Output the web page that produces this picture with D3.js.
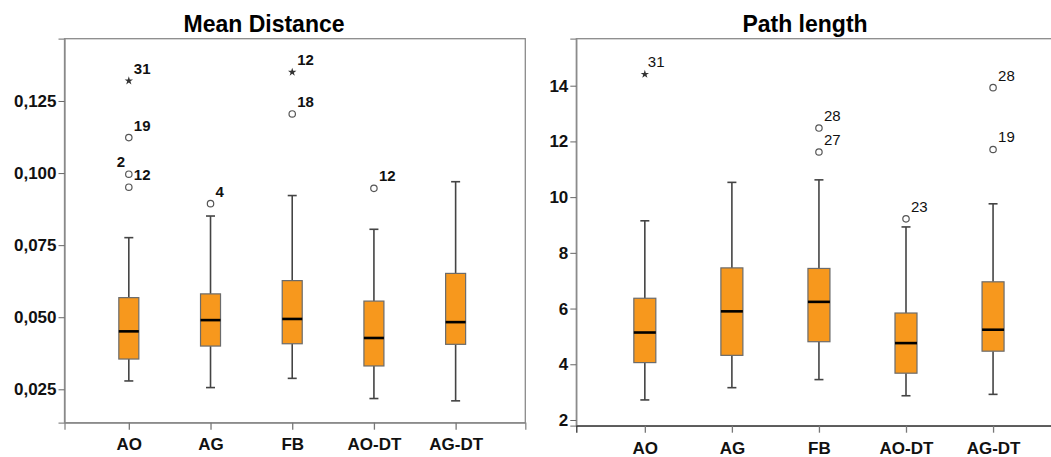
<!DOCTYPE html>
<html><head><meta charset="utf-8">
<script src="https://cdn.jsdelivr.net/npm/d3@7/dist/d3.min.js"></script>
<style>
html,body{margin:0;padding:0;background:#fff;}
svg{display:block;font-family:"Liberation Sans",Arial,sans-serif;}
</style></head>
<body><svg id="chart" width="1051" height="457"></svg>
<script>
// ---------- data ----------
const categories = ["AO", "AG", "FB", "AO-DT", "AG-DT"];

// Mean Distance
const mdTitle = "Mean Distance";
const mdLow  = [0.0279, 0.0256, 0.0288, 0.0218, 0.0210];
const mdQ1   = [0.0355, 0.0400, 0.0408, 0.0331, 0.0406];
const mdMed  = [0.0451, 0.0490, 0.0494, 0.0428, 0.0483];
const mdQ3   = [0.0568, 0.0581, 0.0627, 0.0556, 0.0652];
const mdHigh = [0.0776, 0.0851, 0.0922, 0.0805, 0.0970];
const mdOutliers = [
  ["AO", 0.1320, "31", "extreme"],
  ["AO", 0.1123, "19", "out"],
  ["AO", 0.0996, "2", "out"],
  ["AO", 0.0951, "12", "out"],
  ["AG", 0.0894, "4", "out"],
  ["FB", 0.1350, "12", "extreme"],
  ["FB", 0.1205, "18", "out"],
  ["AO-DT", 0.0947, "12", "out"]
];
const mdTicks = [0.025, 0.050, 0.075, 0.100, 0.125];

// Path length
const plTitle = "Path length";
const plLow  = [2.72, 3.16, 3.45, 2.87, 2.92];
const plQ1   = [4.06, 4.32, 4.81, 3.68, 4.47];
const plMed  = [5.14, 5.90, 6.24, 4.76, 5.24];
const plQ3   = [6.37, 7.46, 7.44, 5.84, 6.96];
const plHigh = [9.15, 10.53, 10.62, 8.93, 9.76];
const plOutliers = [
  ["AO", 14.41, "31", "extreme"],
  ["FB", 12.48, "28", "out"],
  ["FB", 11.62, "27", "out"],
  ["AO-DT", 9.22, "23", "out"],
  ["AG-DT", 13.93, "28", "out"],
  ["AG-DT", 11.71, "19", "out"]
];
const plTicks = [2, 4, 6, 8, 10, 12, 14];

// ---------- layout ----------
const commaLocale = d3.formatLocale({decimal: ",", thousands: ".", grouping: [3], currency: ["", ""]});
const panels = [
  {title: mdTitle, low: mdLow, q1: mdQ1, med: mdMed, q3: mdQ3, high: mdHigh, outliers: mdOutliers, ticks: mdTicks,
   fmt: commaLocale.format(".3f"), domain: [0.01342, 0.1466],
   left: 64.5, top: 38.7, width: 460.8, height: 384, titleX: 264, boxW: 20,
   labelWeight: "bold", axisColor: "#888", xLabelDy: 26.5,
   labelShift: {"AO-2": [-17, 0]}},
  {title: plTitle, low: plLow, q1: plQ1, med: plMed, q3: plQ3, high: plHigh, outliers: plOutliers, ticks: plTicks,
   fmt: d3.format("d"), domain: [1.795, 15.687],
   left: 576.3, top: 38.7, width: 491, height: 387, titleX: 805, boxW: 22,
   labelWeight: "normal", axisColor: "#333", xLabelDy: 27,
   labelShift: {"AO-31": [-2, 0]}}
];

const svg = d3.select("#chart");

panels.forEach(p => {
  const g = svg.append("g");
  const x = d3.scalePoint().domain(categories).range([p.left, p.left + p.width]).padding(0.82).align(0.48);
  const y = d3.scaleLinear().domain(p.domain).range([p.top + p.height, p.top]);

  // title
  g.append("text").attr("x", p.titleX).attr("y", p.top - 7)
    .attr("text-anchor", "middle").attr("font-size", 23).attr("font-weight", "bold")
    .attr("fill", "#000").text(p.title);

  // frame
  g.append("rect").attr("x", p.left).attr("y", p.top).attr("width", p.width).attr("height", p.height)
    .attr("fill", "none").attr("stroke", "#8a8a8a").attr("stroke-width", 1.3);

  // y axis
  const ya = g.append("g").attr("transform", `translate(${p.left},0)`)
    .call(d3.axisLeft(y).tickValues(p.ticks).tickFormat(p.fmt).tickSize(6).tickPadding(2));
  ya.select(".domain").attr("stroke", "#8a8a8a").attr("stroke-width", 1.3);
  ya.selectAll(".tick line").attr("stroke", "#666");
  ya.selectAll(".tick text").attr("font-size", 17).attr("font-weight", "bold").attr("fill", "#111")
    .attr("font-family", "Liberation Sans, Arial, sans-serif");

  // x axis
  const xa = g.append("g").attr("transform", `translate(0,${p.top + p.height})`)
    .call(d3.axisBottom(x).tickSize(7).tickPadding(p.xLabelDy - 18));
  xa.select(".domain").attr("stroke", p.axisColor).attr("stroke-width", 1.3);
  xa.selectAll(".tick line").attr("stroke", "#777").attr("stroke-width", 1.3);
  xa.selectAll(".tick text").attr("font-size", 17).attr("font-weight", "bold").attr("fill", "#111")
    .attr("font-family", "Liberation Sans, Arial, sans-serif");

  const rows = categories.map((c, i) => ({c, low: p.low[i], q1: p.q1[i], med: p.med[i], q3: p.q3[i], high: p.high[i]}));
  const capW = 9;
  const bx = g.selectAll(".bx").data(rows).join("g");

  // whiskers
  bx.append("line").attr("x1", d => x(d.c)).attr("x2", d => x(d.c))
    .attr("y1", d => y(d.high)).attr("y2", d => y(d.q3)).attr("stroke", "#444").attr("stroke-width", 1.6);
  bx.append("line").attr("x1", d => x(d.c)).attr("x2", d => x(d.c))
    .attr("y1", d => y(d.q1)).attr("y2", d => y(d.low)).attr("stroke", "#444").attr("stroke-width", 1.6);
  bx.append("line").attr("x1", d => x(d.c) - capW / 2).attr("x2", d => x(d.c) + capW / 2)
    .attr("y1", d => y(d.high)).attr("y2", d => y(d.high)).attr("stroke", "#444").attr("stroke-width", 1.6);
  bx.append("line").attr("x1", d => x(d.c) - capW / 2).attr("x2", d => x(d.c) + capW / 2)
    .attr("y1", d => y(d.low)).attr("y2", d => y(d.low)).attr("stroke", "#444").attr("stroke-width", 1.6);

  // box
  bx.append("rect").attr("x", d => x(d.c) - p.boxW / 2).attr("width", p.boxW)
    .attr("y", d => y(d.q3)).attr("height", d => y(d.q1) - y(d.q3))
    .attr("fill", "#F7981D").attr("stroke", "#6b6b6b").attr("stroke-width", 1.2);
  // median
  bx.append("line").attr("x1", d => x(d.c) - p.boxW / 2).attr("x2", d => x(d.c) + p.boxW / 2)
    .attr("y1", d => y(d.med)).attr("y2", d => y(d.med)).attr("stroke", "#000").attr("stroke-width", 2.6);

  // outliers
  const og = g.selectAll(".ol").data(p.outliers).join("g");
  og.filter(d => d[3] === "out").append("circle")
    .attr("cx", d => x(d[0])).attr("cy", d => y(d[1])).attr("r", 3.2)
    .attr("fill", "#fff").attr("stroke", "#555").attr("stroke-width", 1.2);
  og.filter(d => d[3] === "extreme").append("path")
    .attr("transform", d => `translate(${x(d[0])},${y(d[1])})`)
    .attr("d", d3.symbol(d3.symbolStar, 22)).attr("fill", "#333");
  og.append("text")
    .attr("x", d => x(d[0]) + 5 + ((p.labelShift[d[0] + "-" + d[2]] || [0, 0])[0]))
    .attr("y", d => y(d[1]) - 7 + ((p.labelShift[d[0] + "-" + d[2]] || [0, 0])[1]))
    .attr("font-size", 15).attr("font-weight", p.labelWeight).attr("fill", "#111").text(d => d[2]);
});
</script></body></html>
